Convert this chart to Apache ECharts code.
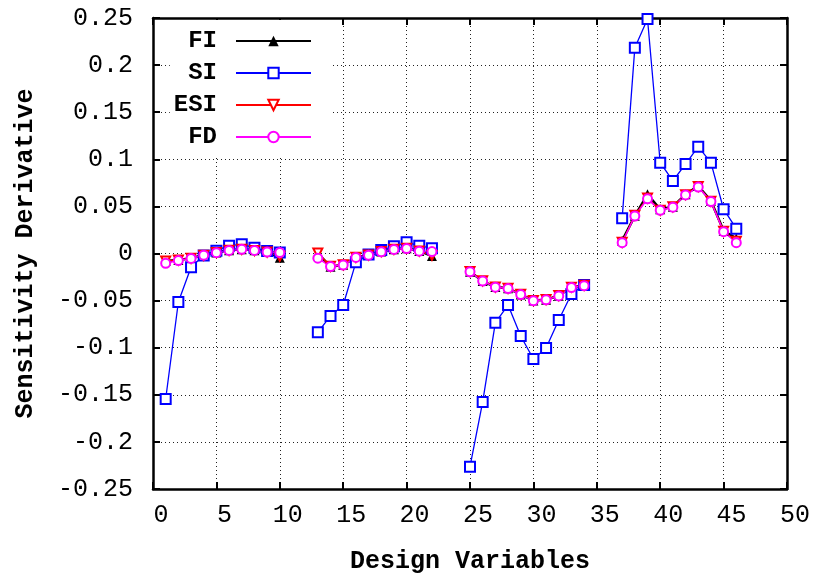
<!DOCTYPE html>
<html>
<head>
<meta charset="utf-8">
<script src="https://cdn.jsdelivr.net/npm/echarts@6/dist/echarts.min.js"></script>
<style>
  html, body { margin: 0; padding: 0; background: #fff; }
  #main { width: 814px; height: 577px; }
</style>
</head>
<body>
<div id="main"></div>
<script>
// design variable index (gaps between the four groups)
const designVars = [
  1, 2, 3, 4, 5, 6, 7, 8, 9, 10,
  13, 14, 15, 16, 17, 18, 19, 20, 21, 22,
  25, 26, 27, 28, 29, 30, 31, 32, 33, 34,
  37, 38, 39, 40, 41, 42, 43, 44, 45, 46
];

const fiValues = [
  -0.008, -0.007, -0.005, -0.0016, 0.001, 0.0034, 0.0045, 0.0034, 0.0016, -0.0045,
  0.0002, -0.014, -0.012, -0.004, -0.0016, 0.002, 0.0045, 0.0055, 0.0027, -0.0027,
  -0.0193, -0.0292, -0.0356, -0.037, -0.0434, -0.05, -0.049, -0.0448, -0.0359, -0.034,
  0.0136, 0.04, 0.0628, 0.047, 0.0497, 0.0628, 0.0717, 0.056, 0.0242, 0.016
];

const siValues = [
  -0.1545, -0.0515, -0.0147, -0.002, 0.003, 0.0083, 0.0097, 0.006, 0.0027, 0.001,
  -0.0837, -0.0663, -0.0547, -0.0094, -0.001, 0.0037, 0.0076, 0.0119, 0.0083, 0.0055,
  -0.2263, -0.1576, -0.0734, -0.0547, -0.0876, -0.112, -0.1003, -0.0706, -0.043, -0.0334,
  0.0373, 0.2185, 0.249, 0.0964, 0.077, 0.095, 0.1134, 0.0964, 0.047, 0.0263
];

const esiValues = [
  -0.008, -0.007, -0.005, -0.0018, 0.001, 0.0034, 0.0045, 0.0033, 0.0015, -0.003,
  0.0005, -0.0135, -0.012, -0.004, -0.0016, 0.002, 0.0045, 0.0055, 0.0027, -0.002,
  -0.019, -0.029, -0.0355, -0.037, -0.0432, -0.0498, -0.0488, -0.0447, -0.0357, -0.0338,
  0.012, 0.0405, 0.059, 0.046, 0.0495, 0.0625, 0.0712, 0.0555, 0.0235, 0.013
];

const fdValues = [
  -0.0104, -0.0075, -0.0052, -0.0018, 0.0009, 0.0033, 0.0044, 0.0033, 0.0015, 0.001,
  -0.005, -0.0138, -0.0122, -0.0042, -0.0018, 0.0018, 0.0043, 0.0053, 0.0025, 0.002,
  -0.0195, -0.0293, -0.0357, -0.0372, -0.0436, -0.0502, -0.0492, -0.045, -0.0361, -0.0342,
  0.0115, 0.0398, 0.058, 0.0458, 0.0492, 0.0622, 0.0705, 0.0552, 0.0232, 0.0115
];

const seriesNames = ["FI", "SI", "ESI", "FD"];

// pairs [x, y], with a '-' break where the design variables jump
const toPairs = (values) => {
  const out = [];
  for (let i = 0; i < designVars.length; i++) {
    if (i > 0 && designVars[i] - designVars[i - 1] > 1) {
      out.push([designVars[i - 1] + 1, "-"]);
    }
    out.push([designVars[i], values[i]]);
  }
  return out;
};

const titleFont = "Liberation Mono";
const frameLine = { show: true, onZero: false, lineStyle: { color: "#000", width: 2.5 } };
const frameTick = { show: true, inside: true, length: 7, lineStyle: { color: "#000", width: 2 } };
const gridLine = { show: true, lineStyle: { color: "#222", width: 1, type: [1, 3] } };

const myChart = echarts.init(document.getElementById("main"));

const option = {
  backgroundColor: "#fff",
  animation: false,
  grid: { left: 153, right: 27, top: 18, bottom: 88, outerBoundsMode: "none", containLabel: false },
  legend: {
    data: seriesNames,
    orient: "vertical",
    align: "right",
    right: 484,
    top: 20,
    padding: [9, 18, 6, 4],
    backgroundColor: "#fff",
    itemWidth: 75,
    itemHeight: 13,
    itemGap: 8,
    textStyle: {
      fontFamily: titleFont,
      fontWeight: "bold",
      fontSize: 24,
      lineHeight: 20,
      color: "#000",
      padding: [0, 14, 0, 0],
    },
  },
  xAxis: [
    {
      type: "value",
      min: 0,
      max: 50,
      interval: 5,
      name: "Design Variables",
      nameLocation: "middle",
      nameGap: 60,
      nameTextStyle: { fontFamily: titleFont, fontWeight: "bold", fontSize: 25, color: "#000" },
      axisLine: frameLine,
      axisTick: frameTick,
      splitLine: gridLine,
      axisLabel: {
        margin: 14,
        fontFamily: titleFont,
        fontSize: 25,
        color: "#000",
        padding: [0, 0, 0, 16],
      },
    },
    {
      type: "value",
      position: "top",
      min: 0,
      max: 50,
      interval: 5,
      axisLine: frameLine,
      axisTick: frameTick,
      splitLine: { show: false },
      axisLabel: { show: false },
    },
  ],
  yAxis: [
    {
      type: "value",
      min: -0.25,
      max: 0.25,
      interval: 0.05,
      name: "Sensitivity Derivative",
      nameLocation: "middle",
      nameGap: 115,
      nameTextStyle: { fontFamily: titleFont, fontWeight: "bold", fontSize: 25, color: "#000" },
      axisLine: frameLine,
      axisTick: frameTick,
      splitLine: gridLine,
      axisLabel: {
        margin: 20,
        fontFamily: titleFont,
        fontSize: 25,
        color: "#000",
      },
    },
    {
      type: "value",
      position: "right",
      min: -0.25,
      max: 0.25,
      interval: 0.05,
      axisLine: frameLine,
      axisTick: frameTick,
      splitLine: { show: false },
      axisLabel: { show: false },
    },
  ],
  series: [
    {
      name: "FI",
      type: "line",
      data: toPairs(fiValues),
      symbol: "triangle",
      symbolSize: 10,
      color: "#000",
      lineStyle: { color: "#000", width: 2.5 },
      itemStyle: { color: "#000" },
    },
    {
      name: "SI",
      type: "line",
      data: toPairs(siValues),
      symbol: "emptyRect",
      symbolSize: 10,
      color: "#0000ff",
      lineStyle: { color: "#0000ff", width: 1.3 },
      itemStyle: { color: "#0000ff", borderWidth: 1.3 },
    },
    {
      name: "ESI",
      type: "line",
      data: toPairs(esiValues),
      symbol: "emptyTriangle",
      symbolRotate: 180,
      symbolSize: 9,
      color: "#ff0000",
      lineStyle: { color: "#ff0000", width: 1.5 },
      itemStyle: { color: "#ff0000", borderWidth: 1.3 },
    },
    {
      name: "FD",
      type: "line",
      data: toPairs(fdValues),
      symbol: "emptyCircle",
      symbolSize: 9,
      color: "#ff00ff",
      lineStyle: { color: "#ff00ff", width: 1.5 },
      itemStyle: { color: "#ff00ff", borderWidth: 1.3 },
    },
  ],
};

myChart.setOption(option);
</script>
</body>
</html>
